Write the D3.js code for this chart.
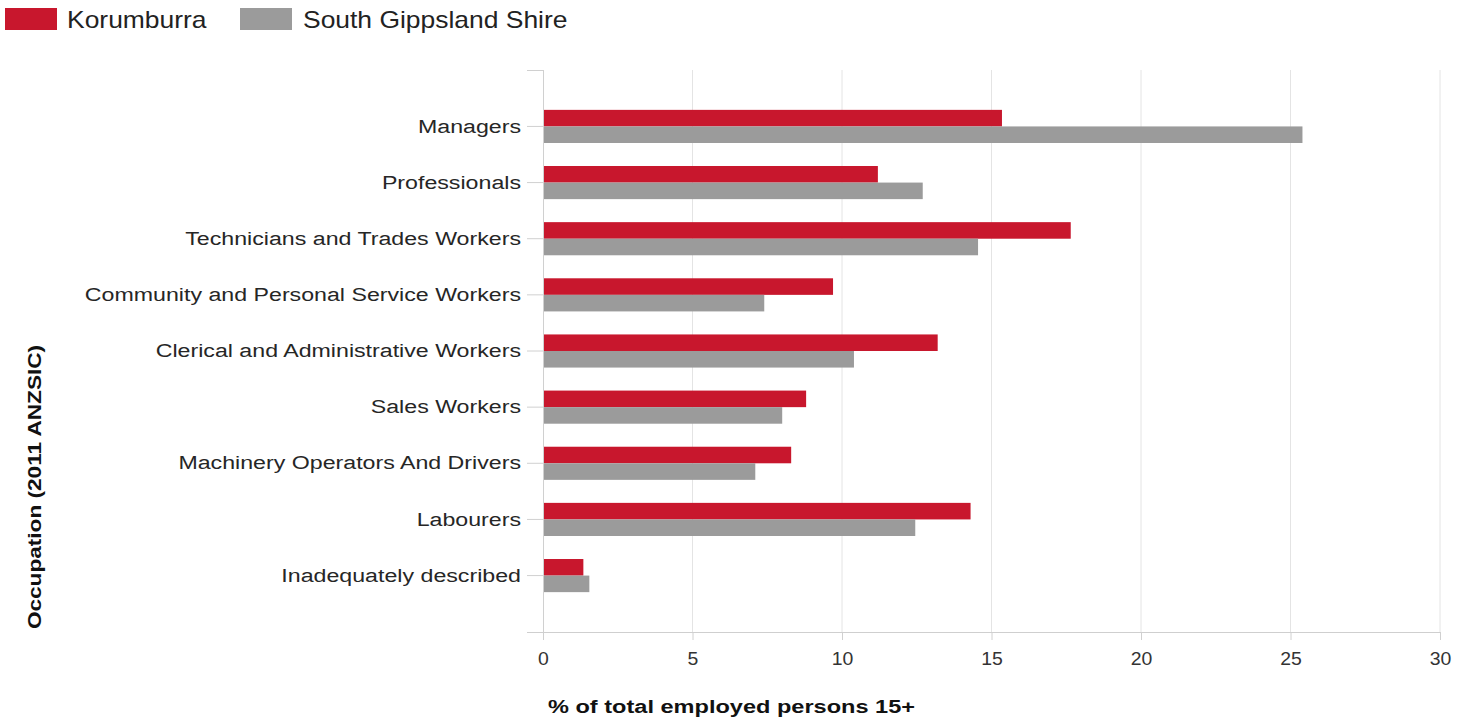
<!DOCTYPE html>
<html><head><meta charset="utf-8">
<script src="https://cdn.jsdelivr.net/npm/d3@7"></script>
<style>body{margin:0;background:#fff;}svg{display:block;font-family:"Liberation Sans",Arial,sans-serif;}</style>
</head><body><svg id="c" width="1459" height="723"></svg>
<script>
const categories = ["Managers","Professionals","Technicians and Trades Workers","Community and Personal Service Workers","Clerical and Administrative Workers","Sales Workers","Machinery Operators And Drivers","Labourers","Inadequately described"];
const korumburra = [15.35, 11.2, 17.65, 9.7, 13.2, 8.8, 8.3, 14.3, 1.35];
const southGippsland = [25.4, 12.7, 14.55, 7.4, 10.4, 8.0, 7.1, 12.45, 1.55];
const seriesNames = ["Korumburra","South Gippsland Shire"];
const seriesColors = ["#c8172d","#9b9b9b"];
const xTicks = [0,5,10,15,20,25,30];

const svg = d3.select("#c");
const L = 543, R = 1440, T = 70, B = 632;
const x = d3.scaleLinear().domain([0,30]).range([L,R]);
const y = d3.scaleBand().domain(categories).range([T,B]).paddingInner(0.41).paddingOuter(0.71);
const sub = d3.scaleBand().domain(seriesNames).range([0,y.bandwidth()]);

// grid
svg.append("g").selectAll("line").data(xTicks.slice(1)).join("line")
  .attr("x1",d=>x(d)).attr("x2",d=>x(d)).attr("y1",T).attr("y2",B)
  .attr("stroke","#e4e4e4").attr("stroke-width",1);

// bars
const data = [korumburra, southGippsland];
data.forEach((vals,si)=>{
  svg.append("g").selectAll("rect").data(categories).join("rect")
    .attr("x",x(0)).attr("y",(d)=>y(d)+sub(seriesNames[si]))
    .attr("width",(d,i)=>x(vals[i])-x(0)).attr("height",sub.bandwidth())
    .attr("fill",seriesColors[si]);
});

// x axis
const xa = svg.append("g").attr("transform",`translate(0,${B})`)
  .call(d3.axisBottom(x).tickValues(xTicks).tickSize(8).tickPadding(12));
xa.select(".domain").remove();
xa.append("line").attr("x1",527).attr("x2",R).attr("y1",0.5).attr("y2",0.5).attr("stroke","#cfcfcf");
xa.selectAll(".tick line").attr("stroke","#d0d0d0");
xa.selectAll(".tick text").attr("fill","#333").attr("font-size",18)
  .attr("transform","scale(1.08,1)").attr("font-family","Liberation Sans, Arial, sans-serif");

// y axis
const ya = svg.append("g").attr("transform",`translate(${L},0)`)
  .call(d3.axisLeft(y).tickSize(16).tickPadding(6));
ya.select(".domain").remove();
ya.append("line").attr("x1",0.5).attr("x2",0.5).attr("y1",T).attr("y2",B).attr("stroke","#d0d0d0");
ya.append("line").attr("x1",-16).attr("x2",0).attr("y1",T+0.5).attr("y2",T+0.5).attr("stroke","#d0d0d0");
ya.selectAll(".tick line").attr("stroke","#d0d0d0");
ya.selectAll(".tick text").attr("fill","#262626").attr("font-size",19)
  .attr("x",null).attr("transform","translate(-22,0) scale(1.22,1)")
  .attr("font-family","Liberation Sans, Arial, sans-serif");

// axis titles
svg.append("text").attr("transform","translate(548,713) scale(1.24,1)").attr("font-weight","bold").attr("font-size",19).attr("fill","#111")
  .text("% of total employed persons 15+");
svg.append("text").attr("transform","translate(41,487) rotate(-90) scale(1.19,1)").attr("text-anchor","middle")
  .attr("font-weight","bold").attr("font-size",19).attr("fill","#111").text("Occupation (2011 ANZSIC)");

// legend
const leg = [{x:5,tx:67},{x:240,tx:303}];
seriesNames.forEach((n,i)=>{
  svg.append("rect").attr("x",leg[i].x).attr("y",8).attr("width",52).attr("height",22).attr("fill",seriesColors[i]);
  svg.append("text").attr("transform",`translate(${leg[i].tx},28) scale(1.15,1)`).attr("font-size",23).attr("fill","#222").text(n);
});
</script></body></html>
